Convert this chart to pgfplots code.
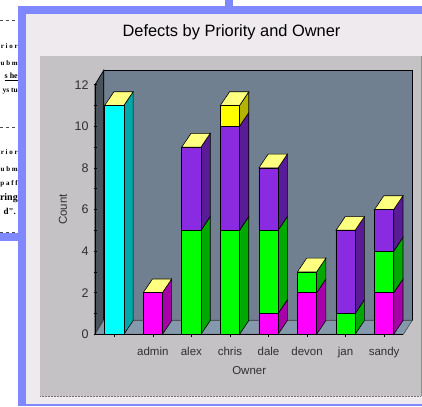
\documentclass[border=0pt]{standalone}
\usepackage{fontspec}
\setmainfont{Liberation Sans}
\newfontfamily\docfont{Liberation Serif}
\usepackage{pgfplots}
\usepackage{pgfplotstable}
\pgfplotsset{compat=1.18}
\definecolor{fblue}{HTML}{8088FF}
\definecolor{panel}{HTML}{EEEAEE}
\definecolor{plotbg}{HTML}{C4C2C4}
\definecolor{wall}{HTML}{708090}
\definecolor{lwall}{HTML}{4A525C}
\definecolor{floorc}{HTML}{849AAC}
\definecolor{cyanF}{HTML}{00FFFF}\definecolor{cyanS}{HTML}{00A8A8}
\definecolor{magF}{HTML}{FF00FF}\definecolor{magS}{HTML}{A800A8}
\definecolor{grnF}{HTML}{00FF00}\definecolor{grnS}{HTML}{00A800}
\definecolor{purF}{HTML}{8A2BE2}\definecolor{purS}{HTML}{5A1C96}
\definecolor{yelF}{HTML}{FFFF00}\definecolor{yelS}{HTML}{B4B400}
\definecolor{topc}{HTML}{FFFF80}
\definecolor{txt}{HTML}{303030}
\pgfplotstableread{
x cyan magenta green purple yellow
0 11 0 0 0 0
1 0 2 0 0 0
2 0 0 5 4 0
3 0 0 5 5 1
4 0 1 4 3 0
5 0 2 1 0 0
6 0 0 1 4 0
7 0 2 2 2 0
}\defects
% side face of a stacked segment: centre, bottom, top, colour
\newcommand{\seg}[4]{%
  \pgfmathsetmacro{\xa}{#1+0.249}\pgfmathsetmacro{\xb}{#1+0.489}%
  \pgfmathsetmacro{\ya}{#2+0.66}\pgfmathsetmacro{\yb}{#3+0.66}%
  \addplot[fill=#4,draw=black,line width=0.6pt] coordinates {(\xa,#2) (\xb,\ya) (\xb,\yb) (\xa,#3)} -- cycle;}
% top face: centre, height
\newcommand{\topf}[2]{%
  \pgfmathsetmacro{\xa}{#1+0.249}\pgfmathsetmacro{\xb}{#1+0.489}%
  \pgfmathsetmacro{\xc}{#1-0.249}\pgfmathsetmacro{\xd}{#1-0.009}%
  \pgfmathsetmacro{\yb}{#2+0.66}%
  \addplot[fill=topc,draw=black,line width=0.6pt] coordinates {(\xc,#2) (\xa,#2) (\xb,\yb) (\xd,\yb)} -- cycle;}
\begin{document}
\begin{tikzpicture}
\useasboundingbox (0pt,0pt) rectangle (422pt,406pt);
\clip (0pt,0pt) rectangle (422pt,406pt);
\fill[white] (0pt,0pt) rectangle (422pt,406pt);
% document behind the window
\begin{scope}[every node/.style={anchor=east,inner sep=0pt,text=black}]
\foreach \yy in {386,279,174}{\draw[black!70,dashed,line width=0.5pt] (0pt,\yy pt) -- (18pt,\yy pt);}
\node at (18pt,360pt) {\docfont\fontsize{7}{7}\selectfont\bfseries r i o r};
\node at (18pt,343pt) {\docfont\fontsize{7}{7}\selectfont\bfseries u b m};
\node at (18pt,329pt) {\docfont\fontsize{8}{8}\selectfont\bfseries\underline{s he}};
\node at (18pt,315pt) {\docfont\fontsize{7.5}{8}\selectfont\bfseries ys tu};
\node at (18pt,254pt) {\docfont\fontsize{7}{7}\selectfont\bfseries r i o r};
\node at (18pt,237pt) {\docfont\fontsize{7}{7}\selectfont\bfseries u b m};
\node at (18pt,222pt) {\docfont\fontsize{7}{7}\selectfont\bfseries p a f f};
\node at (18pt,208pt) {\docfont\fontsize{10}{10}\selectfont\bfseries ring};
\node at (16pt,195pt) {\docfont\fontsize{9}{9}\selectfont\bfseries d".};
\end{scope}
% window frames
\fill[fblue] (225pt,398pt) rectangle (233pt,406pt);
\fill[fblue] (0pt,165pt) rectangle (18pt,173pt);
\fill[fblue] (18pt,0pt) rectangle (422pt,400pt);
\fill[panel] (26pt,2pt) rectangle (422pt,392pt);
\fill[plotbg] (40pt,10pt) rectangle (421pt,350pt);
\draw[black!55,line width=1pt,dash pattern=on 1pt off 0.5pt] (40pt,9.7pt) -- (421pt,9.7pt);
\draw[black!45,line width=0.8pt] (421.5pt,10pt) -- (421.5pt,350pt);
\node[text=black,inner sep=0pt] at (231.5pt,373.5pt) {\fontsize{16.4}{18}\selectfont Defects by Priority and Owner};
% walls and floor
\fill[wall,draw=black,line width=0.7pt] (103.7pt,85.7pt) rectangle (412.3pt,335.7pt);
\fill[lwall,draw=black,line width=0.7pt] (95pt,71.7pt) -- (103.7pt,85.7pt) -- (103.7pt,335.7pt) -- (95pt,321.3pt) -- cycle;
\fill[floorc,draw=black!70,line width=0.6pt] (95pt,71.7pt) -- (103.7pt,85.7pt) -- (412.3pt,85.7pt) -- (403.4pt,71.7pt) -- cycle;
% side and top faces
\begin{axis}[at={(95pt,71.7pt)},anchor=south west,scale only axis,width=308.4pt,height=249.6pt,
  xmin=-0.5,xmax=7.5,ymin=0,ymax=12,hide axis,clip=false,no markers]
\seg{0}{0}{11}{cyanS}\topf{0}{11}
\seg{1}{0}{2}{magS}\topf{1}{2}
\seg{2}{0}{5}{grnS}\seg{2}{5}{9}{purS}\topf{2}{9}
\seg{3}{0}{5}{grnS}\seg{3}{5}{10}{purS}\seg{3}{10}{11}{yelS}\topf{3}{11}
\seg{4}{0}{1}{magS}\seg{4}{1}{5}{grnS}\seg{4}{5}{8}{purS}\topf{4}{8}
\seg{5}{0}{2}{magS}\seg{5}{2}{3}{grnS}\topf{5}{3}
\seg{6}{0}{1}{grnS}\seg{6}{1}{5}{purS}\topf{6}{5}
\seg{7}{0}{2}{magS}\seg{7}{2}{4}{grnS}\seg{7}{4}{6}{purS}\topf{7}{6}
\end{axis}
% front faces
\begin{axis}[at={(95pt,71.7pt)},anchor=south west,scale only axis,width=308.4pt,height=249.6pt,
  xmin=-0.5,xmax=7.5,ymin=0,ymax=12,clip=false,
  ybar stacked,bar width=19.2pt,
  axis x line=bottom,axis y line=left,axis line style={-,black,line width=0.8pt},
  xtick={0,...,7},xticklabels={{},admin,alex,chris,dale,devon,jan,sandy},
  ytick={0,2,...,12},minor y tick num=1,
  tick style={black,line width=0.6pt},
  major tick length=3pt,minor tick length=3pt,
  y tick style={xshift=1.5pt},
  tick align=outside,
  /pgf/number format/assume math mode=true,
  tick label style={font=\fontsize{11.5}{13}\selectfont,text=txt},
  yticklabel style={font=\fontsize{12.5}{13}\selectfont,text=txt,xshift=0pt},
  xticklabel style={yshift=-6pt},
  xlabel={Owner},ylabel={Count},
  xlabel style={font=\fontsize{11.5}{13}\selectfont,text=txt,at={(axis description cs:0.5,0)},anchor=center,yshift=-36.5pt},
  ylabel style={font=\fontsize{11.5}{13}\selectfont,text=txt,at={(axis description cs:0,0.5)},anchor=center,yshift=32pt},
  ]
\addplot[fill=cyanF,draw=black,line width=0.7pt] table[x=x,y=cyan]{\defects};
\addplot[fill=magF,draw=black,line width=0.7pt] table[x=x,y=magenta]{\defects};
\addplot[fill=grnF,draw=black,line width=0.7pt] table[x=x,y=green]{\defects};
\addplot[fill=purF,draw=black,line width=0.7pt] table[x=x,y=purple]{\defects};
\addplot[fill=yelF,draw=black,line width=0.7pt] table[x=x,y=yellow]{\defects};
\end{axis}
\end{tikzpicture}
\end{document}
